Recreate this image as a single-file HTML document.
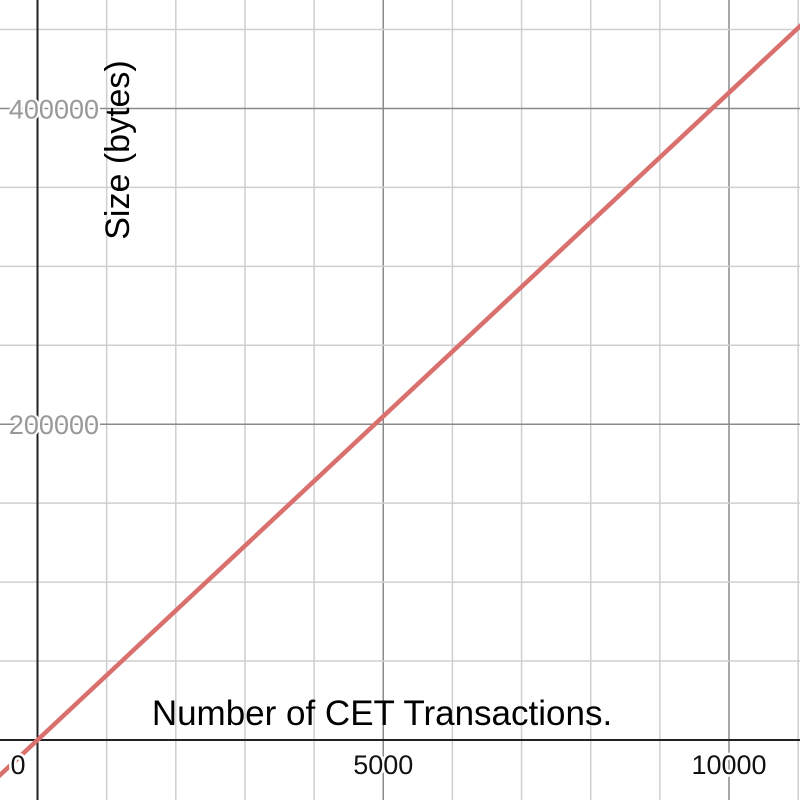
<!DOCTYPE html>
<html><head><meta charset="utf-8"><style>
html,body{margin:0;padding:0;background:#fff}
svg{display:block}
text{font-family:"Liberation Sans",Arial,sans-serif}
</style></head><body>
<svg id="chart" width="800" height="800" viewBox="0 0 800 800" xmlns="http://www.w3.org/2000/svg">
<g id="grid"></g>
<g id="axes"></g>
<g id="series"></g>
<g id="labels"></g>
</svg>
<script>
const xValues = [-1000, 0, 5000, 10000, 11600];
const yValues = [-41000, 0, 205000, 410000, 475600];
const xTicks = [5000, 10000];
const xTickLabels = ["5000", "10000"];
const yTicks = [200000, 400000];
const yTickLabels = ["200000", "400000"];

const NS = "http://www.w3.org/2000/svg";
const X0 = 37.5, Y0 = 740;
const xs = v => X0 + v * 0.06915;
const ys = v => Y0 - v * 0.0015788;
function mk(tag, attrs, parent, text) {
  const e = document.createElementNS(NS, tag);
  for (const k in attrs) e.setAttribute(k, attrs[k]);
  if (text !== undefined) e.textContent = text;
  parent.appendChild(e);
  return e;
}
const grid = document.getElementById('grid');
for (let v = -1000; v <= 12000; v += 1000) {
  if (v === 0) continue;
  const x = xs(v);
  const l = mk('line', {x1: x, x2: x, y1: 0, y2: 800, stroke: v % 5000 === 0 ? '#8a8a8a' : '#cfcfcf', 'stroke-width': 1.5}, grid);
  
  
}
for (let v = -50000; v <= 500000; v += 50000) {
  if (v === 0) continue;
  const y = ys(v);
  const l = mk('line', {x1: 0, x2: 800, y1: y, y2: y, stroke: v % 200000 === 0 ? '#8a8a8a' : '#cfcfcf', 'stroke-width': 1.5}, grid);
  
  
}
const axes = document.getElementById('axes');
const xa = mk('line', {x1: 0, x2: 800, y1: Y0, y2: Y0, stroke: '#222', 'stroke-width': 2}, axes);


const ya = mk('line', {x1: X0, x2: X0, y1: 0, y2: 800, stroke: '#222', 'stroke-width': 2}, axes);



const series = document.getElementById('series');
const pts = xValues.map((v, i) => xs(v).toFixed(2) + ',' + ys(yValues[i]).toFixed(2)).join(' ');
const pl = mk('polyline', {points: pts, fill: 'none', stroke: '#d9706d', 'stroke-width': 4.5, 'stroke-linecap': 'round'}, series);



const labels = document.getElementById('labels');
const z = mk('text', {x: 18, y: 774, 'font-size': 27, fill: '#111', 'text-anchor': 'middle', stroke: '#fff', 'stroke-width': 5, 'paint-order': 'stroke'}, labels, '0');


xTicks.forEach((v, i) => {
  const t = mk('text', {x: xs(v), y: 774, 'font-size': 27, fill: '#111', 'text-anchor': 'middle', stroke: '#fff', 'stroke-width': 5, 'paint-order': 'stroke'}, labels, xTickLabels[i]);
  
  
});
yTicks.forEach((v, i) => {
  const t = mk('text', {x: 99, y: ys(v) + 10, 'font-size': 27, fill: '#999', 'text-anchor': 'end', stroke: '#fff', 'stroke-width': 4, 'paint-order': 'stroke'}, labels, yTickLabels[i]);
  
  
});
const xt = mk('text', {x: 382, y: 725, 'font-size': 35, fill: '#000', 'text-anchor': 'middle'}, labels, 'Number of CET Transactions.');


const yt = mk('text', {x: 0, y: 0, 'font-size': 34, fill: '#000', 'text-anchor': 'middle', transform: 'translate(129,150) rotate(-90)'}, labels, 'Size (bytes)');


</script>
</body></html>
